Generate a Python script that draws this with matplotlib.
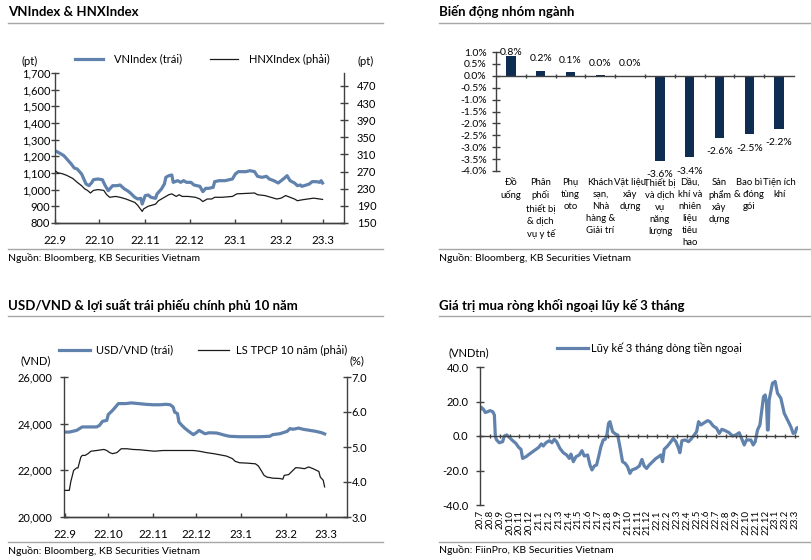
import matplotlib
matplotlib.use("Agg")
import numpy as np
import pandas as pd
import matplotlib.pyplot as plt
from matplotlib.lines import Line2D

plt.rcParams['font.family'] = ['Lato', 'DejaVu Sans']

W, H = 812, 560
BLUE = '#6082ad'
NAVY = '#0f2d52'
RULE = '#a6a6a6'
AXIS = '#404040'

# ---------------- data ----------------
# VNIndex & HNXIndex
vn_dates = ['2022-09-01', '2022-09-04', '2022-09-07', '2022-09-09', '2022-09-12', '2022-09-14',
            '2022-09-16', '2022-09-19', '2022-09-20', '2022-09-22', '2022-09-24', '2022-09-26',
            '2022-09-27', '2022-09-30', '2022-10-03', '2022-10-05', '2022-10-07', '2022-10-10',
            '2022-10-13', '2022-10-15', '2022-10-18', '2022-10-20', '2022-10-22', '2022-10-25',
            '2022-10-27', '2022-10-29', '2022-10-30', '2022-11-01', '2022-11-03', '2022-11-05',
            '2022-11-08', '2022-11-09', '2022-11-12', '2022-11-14', '2022-11-15', '2022-11-17',
            '2022-11-19', '2022-11-20', '2022-11-23', '2022-11-25', '2022-11-27', '2022-11-29',
            '2022-12-02', '2022-12-04', '2022-12-06', '2022-12-08', '2022-12-10', '2022-12-12',
            '2022-12-14', '2022-12-17', '2022-12-18', '2022-12-21', '2022-12-25', '2022-12-30',
            '2023-01-01', '2023-01-03', '2023-01-08', '2023-01-11', '2023-01-14', '2023-01-16',
            '2023-01-19', '2023-01-22', '2023-01-24', '2023-01-27', '2023-01-30', '2023-02-01',
            '2023-02-03', '2023-02-05', '2023-02-07', '2023-02-10', '2023-02-12', '2023-02-14',
            '2023-02-15', '2023-02-18', '2023-02-20', '2023-02-22', '2023-02-25', '2023-02-27',
            '2023-02-28', '2023-03-01']
vn_close = [1234, 1220, 1204, 1184, 1154, 1130, 1124, 1094, 1074, 1034, 1024, 1044,
            1060, 1064, 1060, 1024, 994, 1024, 1024, 1028, 1004, 994, 980, 954,
            944, 948, 914, 964, 968, 954, 948, 974, 1004, 1034, 1074, 1084,
            1088, 1044, 1054, 1044, 1054, 1044, 1044, 1028, 1024, 1020, 988, 1008,
            1008, 1014, 1048, 1054, 1054, 1064, 1094, 1108, 1108, 1114, 1108, 1080,
            1074, 1080, 1064, 1054, 1040, 1054, 1068, 1084, 1054, 1040, 1024, 1028,
            1020, 1028, 1034, 1048, 1048, 1044, 1054, 1040]
hnx_dates = ['2022-09-01', '2022-09-03', '2022-09-06', '2022-09-09', '2022-09-13', '2022-09-16',
             '2022-09-19', '2022-09-21', '2022-09-23', '2022-09-25', '2022-09-27', '2022-09-30',
             '2022-10-04', '2022-10-06', '2022-10-08', '2022-10-12', '2022-10-15', '2022-10-19',
             '2022-10-22', '2022-10-25', '2022-10-27', '2022-10-30', '2022-10-31', '2022-11-03',
             '2022-11-06', '2022-11-08', '2022-11-10', '2022-11-14', '2022-11-17', '2022-11-19',
             '2022-11-22', '2022-11-24', '2022-11-26', '2022-11-30', '2022-12-05', '2022-12-08',
             '2022-12-10', '2022-12-13', '2022-12-16', '2022-12-18', '2022-12-23', '2022-12-30',
             '2023-01-02', '2023-01-08', '2023-01-14', '2023-01-16', '2023-01-21', '2023-01-25',
             '2023-01-29', '2023-02-01', '2023-02-04', '2023-02-07', '2023-02-10', '2023-02-12',
             '2023-02-15', '2023-02-19', '2023-02-23', '2023-02-27', '2023-03-01']
hnx_close = [272, 267, 265, 261, 254, 245, 237, 230, 226, 220, 226, 228,
             226, 216, 210, 212, 210, 206, 202, 198, 191, 177, 183, 189,
             192, 194, 202, 210, 216, 218, 212, 216, 212, 212, 210, 206,
             200, 206, 206, 210, 210, 212, 218, 219, 220, 216, 214, 210,
             206, 208, 214, 210, 206, 202, 204, 206, 208, 206, 205]
month_ticks = ['2022-09-01', '2022-10-01', '2022-11-01', '2022-12-01',
               '2023-01-01', '2023-02-01', '2023-03-01']
month_labels = ['22.9', '22.10', '22.11', '22.12', '23.1', '23.2', '23.3']

# sector performance
sector_names = ['Đồ\nuống', 'Phân\nphối\nthiết bị\n& dịch\nvụ y tế', 'Phụ\ntùng\noto',
                'Khách\nsạn,\nNhà\nhàng &\nGiải trí', 'Vật liệu\nxây\ndựng',
                'Thiết bị\nvà dịch\nvụ\nnăng\nlượng', 'Dầu,\nkhí và\nnhiên\nliệu\ntiêu\nhao',
                'Sản\nphẩm\nxây\ndựng', 'Bao bì\n& đóng\ngói', 'Tiện ích\nkhí']
sector_change = [0.82, 0.22, 0.14, 0.02, 0.0, -3.56, -3.42, -2.6, -2.46, -2.23]

# USD/VND & 10y government bond yield
usd_dates = ['2022-09-01', '2022-09-04', '2022-09-09', '2022-09-13', '2022-09-18', '2022-09-23',
             '2022-09-25', '2022-09-27', '2022-09-30', '2022-10-01', '2022-10-04', '2022-10-06',
             '2022-10-08', '2022-10-13', '2022-10-17', '2022-10-22', '2022-10-27', '2022-11-01',
             '2022-11-06', '2022-11-10', '2022-11-13', '2022-11-15', '2022-11-16', '2022-11-18',
             '2022-11-19', '2022-11-21', '2022-11-23', '2022-11-25', '2022-11-28', '2022-11-29',
             '2022-12-01', '2022-12-03', '2022-12-05', '2022-12-07', '2022-12-10', '2022-12-15',
             '2022-12-17', '2022-12-21', '2022-12-24', '2022-12-31', '2023-01-07', '2023-01-14',
             '2023-01-21', '2023-01-23', '2023-01-28', '2023-02-02', '2023-02-04', '2023-02-06',
             '2023-02-10', '2023-02-13', '2023-02-18', '2023-02-22', '2023-02-26', '2023-02-28']
usd_vnd = [23640, 23640, 23710, 23860, 23860, 23860, 23930, 24100, 24140, 24390, 24570, 24710,
           24860, 24860, 24890, 24860, 24830, 24810, 24810, 24830, 24810, 24710, 24500, 24430,
           24070, 23930, 23810, 23710, 23570, 23530, 23610, 23710, 23640, 23570, 23610, 23600,
           23570, 23500, 23460, 23440, 23440, 23440, 23460, 23530, 23570, 23670, 23790, 23760,
           23810, 23760, 23710, 23670, 23610, 23560]
bond_dates = ['2022-09-01', '2022-09-04', '2022-09-05', '2022-09-07', '2022-09-09', '2022-09-10',
              '2022-09-12', '2022-09-13', '2022-09-15', '2022-09-17', '2022-09-19', '2022-09-23',
              '2022-09-28', '2022-09-30', '2022-10-02', '2022-10-04', '2022-10-07', '2022-10-10',
              '2022-10-14', '2022-10-18', '2022-10-23', '2022-10-28', '2022-11-02', '2022-11-08',
              '2022-11-15', '2022-11-22', '2022-11-29', '2022-12-03', '2022-12-08', '2022-12-13',
              '2022-12-17', '2022-12-22', '2022-12-26', '2022-12-28', '2022-12-31', '2023-01-05',
              '2023-01-11', '2023-01-13', '2023-01-15', '2023-01-17', '2023-01-19', '2023-01-23',
              '2023-01-28', '2023-01-30', '2023-01-31', '2023-02-03', '2023-02-06', '2023-02-08',
              '2023-02-11', '2023-02-14', '2023-02-17', '2023-02-20', '2023-02-24', '2023-02-25',
              '2023-02-27', '2023-02-28']
bond_yield = [3.76, 3.76, 4.00, 4.33, 4.40, 4.40, 4.71, 4.76, 4.76, 4.81, 4.88, 4.90,
              4.93, 4.90, 4.84, 4.81, 4.84, 4.95, 4.95, 4.93, 4.92, 4.90, 4.88, 4.90,
              4.90, 4.90, 4.90, 4.88, 4.84, 4.81, 4.78, 4.74, 4.67, 4.59, 4.55, 4.54,
              4.52, 4.46, 4.33, 4.19, 4.14, 4.11, 4.10, 4.08, 4.19, 4.21, 4.33, 4.41,
              4.40, 4.38, 4.43, 4.38, 4.30, 4.14, 4.05, 3.86]

# foreign net buying, 3-month rolling (VND tn); x = months since 2020-07
flow_month = [0, 0.14, 0.34, 0.54, 0.78, 1.02, 1.29, 1.46, 1.56, 1.69, 1.96, 2.30, 2.47, 2.71,
              2.98, 3.32, 3.65, 3.93, 4.16, 4.33, 4.67, 5.01, 5.35, 5.69, 5.96, 6.23, 6.43, 6.70,
              7.04, 7.31, 7.55, 7.78, 8.12, 8.46, 8.80, 9.07, 9.24, 9.48, 9.75, 10.08, 10.36,
              10.59, 10.93, 11.17, 11.37, 11.61, 11.84, 12.05, 12.28, 12.52, 12.72, 12.89, 13.06,
              13.20, 13.47, 13.74, 13.98, 14.21, 14.48, 14.75, 14.99, 15.23, 15.43, 15.84, 16.18,
              16.45, 16.68, 16.92, 17.19, 17.53, 17.87, 18.14, 18.38, 18.54, 18.71, 19.05, 19.39,
              19.63, 19.90, 20.17, 20.30, 20.51, 20.85, 21.18, 21.42, 21.76, 22.00, 22.20, 22.44,
              22.78, 23.12, 23.35, 23.69, 24.03, 24.30, 24.57, 24.91, 25.31, 25.65, 25.99, 26.33,
              26.60, 26.84, 27.07, 27.51, 27.75, 27.95, 28.19, 28.43, 28.63, 28.80, 28.97, 29.10,
              29.20, 29.27, 29.37, 29.54, 29.71, 29.98, 30.22, 30.56, 30.90, 31.24, 31.57, 31.81,
              32.02, 32.15, 32.25]
flow_value = [15.1, 16.6, 15.5, 13.6, 14.1, 14.7, 14.1, 12.2, -0.4, -2.3, -3.9, -3.3, 0.0, 0.6,
              -0.8, -2.7, -4.3, -6.6, -7.7, -13.0, -12.0, -10.5, -9.1, -7.7, -6.6, -4.6, -5.8, -3.9,
              -2.7, -3.9, -1.9, -3.3, -7.2, -9.7, -11.0, -13.0, -10.5, -14.9, -12.0, -11.0, -8.5,
              -11.6, -11.0, -16.8, -19.7, -17.4, -16.8, -12.0, -6.2, -2.3, -1.9, 0.6, 7.4,
              8.3, 2.5, 1.2, 0.6, -6.2, -14.9, -15.9, -17.8, -21.7, -19.7, -18.8, -17.4,
              -13.6, -17.4, -18.8, -16.8, -14.9, -13.0, -12.0, -11.0, -14.9, -7.7, -5.8, -3.3,
              -1.4, -3.3, -7.2, -9.7, -2.7, -2.3, -3.3, -1.9, 0.6, 2.5, 8.3, 6.4,
              7.7, 8.9, 8.3, 5.8, 4.5, 1.5, 3.9, 3.1, 1.9, 0.0, 0.6, 1.9,
              -1.9, -5.2, -2.3, -2.3, -5.2, -3.3, 3.5, 6.4, 15.1, 22.8, 23.8, 19.0,
              3.5, 3.5, 20.9, 25.7, 30.6, 31.6, 24.8, 21.9, 13.2, 9.3, 5.4, 1.5,
              1.9, 4.5, 4.8]
flow_month_labels = ['20.7', '20.8', '20.9', '20.10', '20.11', '20.12', '21.1', '21.2', '21.3',
                     '21.4', '21.5', '21.6', '21.7', '21.8', '21.9', '21.10', '21.11', '21.12',
                     '22.1', '22.2', '22.3', '22.4', '22.5', '22.6', '22.7', '22.8', '22.9',
                     '22.10', '22.11', '22.12', '23.1', '23.2', '23.3']


# ---------------- helpers ----------------
def px_rect(left, top, right, bottom):
    return [left / W, 1 - bottom / H, (right - left) / W, (bottom - top) / H]

def fx(x):
    return x / W

def fy(y):
    return 1 - y / H

def rule(x0, x1, y):
    fig.add_artist(Line2D([fx(x0), fx(x1)], [fy(y), fy(y)], color=RULE, lw=1))

def header(x0, x1, y_title, y_rule, title):
    fig.text(fx(x0), fy(y_title), title, fontsize=9.5, fontweight='bold', ha='left', va='center')
    rule(x0, x1, y_rule)

def footer(x0, x1, y_rule, y_text, text):
    rule(x0, x1, y_rule)
    fig.text(fx(x0), fy(y_text), text, fontsize=7.5, ha='left', va='center')

def plain_spines(ax):
    for s in ax.spines.values():
        s.set_color(AXIS)
        s.set_linewidth(1)
    ax.spines['top'].set_visible(False)


fig = plt.figure(figsize=(W / 100, H / 100), dpi=100)

# ---------------- VNIndex & HNXIndex ----------------
header(8, 383, 12, 23.3, 'VNIndex & HNXIndex')
ax1 = fig.add_axes(px_rect(55, 73, 344, 223))
vn_line, = ax1.plot(pd.to_datetime(vn_dates), vn_close, color=BLUE, lw=2.3)
ax1.set_ylim(800, 1700)
ax1.set_yticks(np.arange(800, 1701, 100))
ax1.set_yticklabels([f'{v:,}' for v in range(800, 1701, 100)])
ax1.set_xlim(pd.Timestamp('2022-09-01'), pd.Timestamp('2023-03-15 12:00'))
ax1.set_xticks(pd.to_datetime(month_ticks))
ax1.set_xticklabels(month_labels)
plain_spines(ax1)
ax1.spines['right'].set_visible(False)
ax1.tick_params(axis='y', direction='inout', length=5.8, width=1, color=AXIS, pad=0.5, labelsize=8)
ax1.tick_params(axis='x', direction='in', length=3, width=1, color=AXIS, pad=8.3, labelsize=8.3)

ax1b = ax1.twinx()
hnx_line, = ax1b.plot(pd.to_datetime(hnx_dates), hnx_close, color='#1a1a1a', lw=0.9)
ax1b.set_ylim(150, 500)
ax1b.set_yticks(np.arange(150, 471, 40))
plain_spines(ax1b)
ax1b.spines['left'].set_visible(False)
ax1b.tick_params(axis='y', direction='inout', length=5.8, width=1, color=AXIS, pad=6.3, labelsize=8)

fig.text(fx(30), fy(61), '(pt)', fontsize=8, ha='center', va='center')
fig.text(fx(366), fy(61), '(pt)', fontsize=8, ha='center', va='center')
fig.legend([vn_line, hnx_line], ['VNIndex (trái)', 'HNXIndex (phải)'], loc='center left',
           bbox_to_anchor=(fx(75), fy(59)), ncol=2, frameon=False, fontsize=8,
           handlelength=2.5, handletextpad=1.0, columnspacing=2.5, borderpad=0, borderaxespad=0)
footer(8, 383, 249.3, 258, 'Nguồn: Bloomberg, KB Securities Vietnam')

# ---------------- sector performance ----------------
header(439, 812, 12, 23.3, 'Biến động nhóm ngành')
ax2 = fig.add_axes(px_rect(496, 52, 794, 171))
pos = np.arange(len(sector_change))
ax2.bar(pos, sector_change, width=0.31, color=NAVY)
ax2.set_xlim(-0.5, len(sector_change) - 0.5)
ax2.set_ylim(-4, 1)
ax2.set_yticks(np.arange(-4, 1.01, 0.5))
ax2.yaxis.set_major_formatter(lambda v, p: f'{v:.1f}%')
plain_spines(ax2)
ax2.spines['right'].set_visible(False)
ax2.spines['bottom'].set_position(('data', 0))
ax2.set_xticks(pos[:-1] + 0.5)
ax2.tick_params(axis='x', direction='inout', length=3, width=1, color=AXIS, labelbottom=False)
ax2.tick_params(axis='y', direction='inout', length=5.8, width=1, color=AXIS, pad=3.8, labelsize=7.5)
for i, v in enumerate(sector_change):
    y = min(v + 0.5, 0.96) if v >= 0 else v - 0.59
    ax2.text(i, y, f'{v:.1f}%', ha='center', va='center', fontsize=7.5)
sec2 = ax2.secondary_xaxis(0.0)
sec2.set_xticks(pos)
sec2.set_xticklabels(sector_names, fontsize=6.8, linespacing=1.42)
sec2.tick_params(length=0, pad=5)
sec2.spines['bottom'].set_visible(False)
footer(439, 812, 249.3, 258, 'Nguồn: Bloomberg, KB Securities Vietnam')

# ---------------- USD/VND & bond yield ----------------
header(8, 383, 305, 315.7, 'USD/VND & lợi suất trái phiếu chính phủ 10 năm')
ax3 = fig.add_axes(px_rect(64, 377, 347, 517))
usd_line, = ax3.plot(pd.to_datetime(usd_dates), usd_vnd, color=BLUE, lw=2.3)
ax3.set_ylim(20000, 26000)
ax3.set_yticks(np.arange(20000, 26001, 2000))
ax3.set_yticklabels([f'{v:,}' for v in range(20000, 26001, 2000)])
ax3.set_xlim(pd.Timestamp('2022-08-31 08:00'), pd.Timestamp('2023-03-15 12:00'))
ax3.set_xticks(pd.to_datetime(month_ticks))
ax3.set_xticklabels(month_labels)
plain_spines(ax3)
ax3.spines['right'].set_visible(False)
ax3.tick_params(axis='y', direction='inout', length=5.8, width=1, color=AXIS, pad=5.5, labelsize=8)
ax3.tick_params(axis='x', direction='in', length=3, width=1, color=AXIS, pad=8.5, labelsize=8.3)

ax3b = ax3.twinx()
bond_line, = ax3b.plot(pd.to_datetime(bond_dates), bond_yield, color='#1a1a1a', lw=0.9)
ax3b.set_ylim(3, 7)
ax3b.set_yticks(np.arange(3, 7.01, 1))
ax3b.yaxis.set_major_formatter(lambda v, p: f'{v:.1f}')
plain_spines(ax3b)
ax3b.spines['left'].set_visible(False)
ax3b.tick_params(axis='y', direction='inout', length=5.8, width=1, color=AXIS, pad=0.5, labelsize=8)

fig.text(fx(36), fy(361), '(VND)', fontsize=8, ha='center', va='center')
fig.text(fx(357), fy(361), '(%)', fontsize=8, ha='center', va='center')
fig.legend([usd_line, bond_line], ['USD/VND (trái)', 'LS TPCP 10 năm (phải)'], loc='center left',
           bbox_to_anchor=(fx(59), fy(350)), ncol=2, frameon=False, fontsize=8,
           handlelength=2.8, handletextpad=0.55, columnspacing=2.25, borderpad=0, borderaxespad=0)
footer(8, 383, 542, 551, 'Nguồn: Bloomberg, KB Securities Vietnam')

# ---------------- foreign net buying ----------------
header(439, 812, 305, 315.7, 'Giá trị mua ròng khối ngoại lũy kế 3 tháng')
ax4 = fig.add_axes(px_rect(480, 367, 798, 505))
flow_line, = ax4.plot(flow_month, flow_value, color=BLUE, lw=2.3)
ax4.set_xlim(0, 32.3)
ax4.set_ylim(-40, 40)
ax4.set_yticks(np.arange(-40, 41, 20))
ax4.yaxis.set_major_formatter(lambda v, p: f'{v:.1f}')
plain_spines(ax4)
ax4.spines['right'].set_visible(False)
ax4.spines['bottom'].set_position(('data', 0))
ax4.set_xticks(np.arange(len(flow_month_labels)))
ax4.tick_params(axis='x', direction='inout', length=3, width=1, color=AXIS, labelbottom=False)
ax4.tick_params(axis='y', direction='inout', length=5.8, width=1, color=AXIS, pad=5.3, labelsize=8)
sec4 = ax4.secondary_xaxis(0.0)
sec4.set_xticks(np.arange(len(flow_month_labels)))
sec4.set_xticklabels(flow_month_labels, rotation=90, fontsize=7)
sec4.tick_params(length=0, pad=3.6)
sec4.spines['bottom'].set_visible(False)

fig.text(fx(469), fy(353), '(VNDtn)', fontsize=8, ha='center', va='center')
fig.legend([flow_line], ['Lũy kế 3 tháng dòng tiền ngoại'], loc='center left',
           bbox_to_anchor=(fx(557), fy(348)), frameon=False, fontsize=8,
           handlelength=2.8, handletextpad=0.3, borderpad=0, borderaxespad=0)
footer(439, 812, 542, 550, 'Nguồn: FiinPro, KB Securities Vietnam')

fig.savefig('out.png', dpi=100)
